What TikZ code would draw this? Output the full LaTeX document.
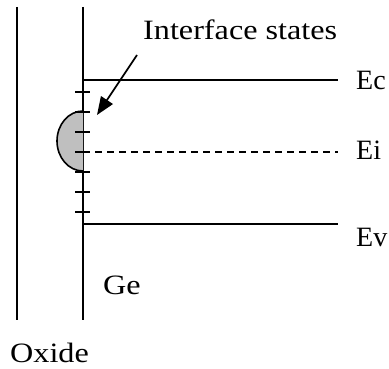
\documentclass[tikz,border=0pt]{standalone}
\usepackage{fontspec}
\setmainfont[FakeStretch=1.15]{Liberation Serif}
\newfontfamily\levelfont{Liberation Serif}
\usetikzlibrary{positioning, arrows.meta}

\begin{document}
\begin{tikzpicture}[x=1pt, y=-1pt,
    wall/.style={line width=2pt},
    level/.style={line width=2pt},
    tick/.style={line width=1.8pt},
    lbl/.style={font=\fontsize{28}{30}\selectfont, inner sep=0pt},
    lvl/.style={font=\levelfont\fontsize{28}{30}\selectfont, inner sep=0pt},
    pointer/.style={line width=1.8pt, -{Triangle[length=18pt, width=14pt]}}]

\pgfmathsetmacro{\xO}{17}
\pgfmathsetmacro{\xG}{83}
\pgfmathsetmacro{\xR}{338}
\pgfmathsetmacro{\yC}{80}
\pgfmathsetmacro{\yI}{152}
\pgfmathsetmacro{\yV}{224}

\useasboundingbox (0,0) rectangle (389,369);

% Paredes (oxide / Ge)
\coordinate (oxtop) at (\xO, 7);
\coordinate (oxbot) at (\xO, 320);
\coordinate (getop) at (\xG, 7);
\coordinate (gebot) at (\xG, 320);
\draw[wall] (oxtop) -- (oxbot);
\draw[wall] (getop) -- (gebot);

% Niveles de energia
\coordinate (ec0) at (\xG, \yC);
\coordinate (ec1) at (\xR, \yC);
\coordinate (ei0) at (\xG, \yI);
\coordinate (ei1) at (\xR, \yI);
\coordinate (ev0) at (\xG, \yV);
\coordinate (ev1) at (\xR, \yV);
\draw[level] (ec0) -- (ec1);
\draw[level, dash pattern=on 7pt off 5pt] (ei0) -- (ei1);
\draw[level] (ev0) -- (ev1);

% Distribucion de estados
\draw[line width=1.6pt, fill=gray!50] (\xG, 111)
    arc[start angle=-90, end angle=-270, x radius=26, y radius=30];

% Marcas
\foreach \t in {92, 112, 132, 152, 172, 192, 212}
    \draw[tick] (\xG-8, \t) -- (\xG+7, \t);

% Etiquetas
\node[lvl, anchor=west] (ec) at (356, \yC) {Ec};
\node[lvl, anchor=west] (ei) at (356, \yI-2) {Ei};
\node[lvl, anchor=west] (ev) at (356, \yV+13) {Ev};
\node[lbl, anchor=west] (ge) at (103, 285) {Ge};
\node[lbl, anchor=west] (ox) at (10, 353) {Oxide};
\node[lbl, anchor=west] (states) at (143, 30) {Interface states};

% Flecha
\coordinate (trap) at (97, 115);
\draw[pointer] (137, 55) -- (trap);

\end{tikzpicture}
\end{document}
